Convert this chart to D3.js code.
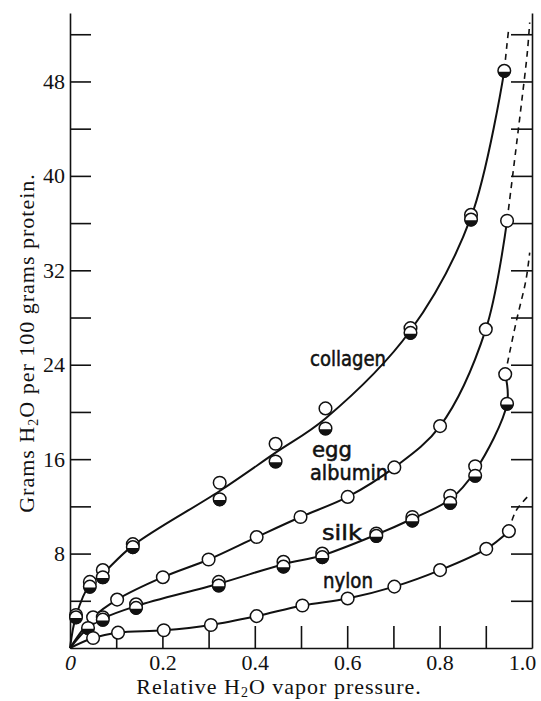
<!DOCTYPE html>
<html>
<head>
  <meta charset="UTF-8">
  <title>Water sorption of proteins</title>
  <script src="https://cdnjs.cloudflare.com/ajax/libs/d3/7.8.5/d3.min.js"></script>
  <style>
    body { margin: 0; background: #fff; }
    .tick text { font-family: "Liberation Serif", serif; font-size: 22px; fill: #111; }
    .axis path, .axis line { stroke: #111; stroke-width: 1.6; }
    .curve { fill: none; stroke: #111; stroke-width: 2; }
    .dash { fill: none; stroke: #111; stroke-width: 1.6; stroke-dasharray: 6,5; }
    .lbl { font-family: "DejaVu Sans Condensed", "DejaVu Sans", sans-serif; font-size: 21px; fill: #111; stroke: #111; stroke-width: 0.5; }
    .title { font-family: "Liberation Serif", serif; font-size: 22px; fill: #111; letter-spacing: 1px; }
  </style>
</head>
<body>
<script>
  // values (x = relative vapour pressure, y = g H2O / 100 g)
  const collagenX    = [0.013, 0.043, 0.071, 0.136, 0.324, 0.445, 0.553, 0.737, 0.868, 0.940];
  const collagenHalf = [2.6, 5.2, 6.0, 8.55, 12.6, 15.8, 18.6, 26.7, 36.3, 48.9];
  const collagenOpen = [2.8, 5.6, 6.6, 8.8, 14.0, 17.3, 20.3, 27.1, 36.7, null];

  const eggX = [0.050, 0.102, 0.201, 0.300, 0.404, 0.499, 0.601, 0.702, 0.801, 0.900, 0.946];
  const eggY = [2.6, 4.1, 6.0, 7.5, 9.4, 11.1, 12.8, 15.3, 18.8, 27.0, 36.2];

  const silkX    = [0.039, 0.071, 0.143, 0.322, 0.462, 0.546, 0.663, 0.741, 0.823, 0.877, 0.946];
  const silkHalf = [1.7, 2.4, 3.4, 5.3, 6.9, 7.7, 9.5, 10.8, 12.3, 14.6, 20.7];
  const silkOpen = [null, 2.6, 3.7, 5.6, 7.3, 8.0, 9.7, 11.1, 12.9, 15.4, 23.2];

  const nylonX = [0.050, 0.104, 0.203, 0.305, 0.404, 0.503, 0.601, 0.702, 0.801, 0.901, 0.950];
  const nylonY = [0.85, 1.3, 1.5, 1.95, 2.7, 3.6, 4.2, 5.2, 6.6, 8.4, 9.9];

  // dashed extrapolations toward saturation
  const collagenDash = [[0.940, 48.9], [0.946, 51.2], [0.950, 52.6]];
  const eggDash      = [[0.946, 36.2], [0.965, 42.2], [0.978, 46.4], [0.990, 50.5], [0.995, 53]];
  const silkDash     = [[0.942, 23.2], [0.965, 27.5], [0.987, 31.2], [0.995, 33.5]];
  const nylonDash    = [[0.950, 9.9], [0.965, 11.6], [0.995, 13.0]];

  const xLabelTicks = [0, 0.2, 0.4, 0.6, 0.8, 1.0];
  const xLabelText  = ["0", "0.2", "0.4", "0.6", "0.8", "1.0"];
  const xMinorTicks = [0.1, 0.2, 0.3, 0.4, 0.5, 0.6, 0.7, 0.8, 0.9];
  const yTicks      = [4, 8, 12, 16, 20, 24, 28, 32, 36, 40, 44, 48, 52];
  const yLabelled   = [8, 16, 24, 32, 40, 48];

  const W = 541, H = 701;
  const svg = d3.select("body").append("svg").attr("width", W).attr("height", H);

  const x = d3.scaleLinear().domain([0, 1]).range([70, 532]);
  const y = d3.scaleLinear().domain([0, 53.8]).range([648, 13]);

  // axes
  svg.append("g").attr("class", "axis")
    .attr("transform", `translate(${x(0)},0)`)
    .call(d3.axisLeft(y).tickValues(yTicks).tickSizeInner(-21).tickSizeOuter(0).tickPadding(5)
      .tickFormat(d => yLabelled.includes(d) ? d : ""));

  svg.append("g").attr("class", "axis")
    .attr("transform", `translate(${x(1)},0)`)
    .call(d3.axisRight(y).tickValues(yTicks).tickSizeInner(-21).tickSizeOuter(0).tickFormat(""));

  svg.append("g").attr("class", "axis")
    .attr("transform", `translate(0,${y(0)})`)
    .call(d3.axisBottom(x).tickValues(xMinorTicks).tickSizeInner(-22).tickSizeOuter(0).tickFormat(""));

  const xl = svg.append("g").attr("class", "axis")
    .attr("transform", `translate(0,${y(0)})`)
    .call(d3.axisBottom(x).tickValues(xLabelTicks).tickSize(0).tickPadding(6)
      .tickFormat((d, i) => xLabelText[i]));
  xl.select(".domain").remove();
  xl.selectAll(".tick text").filter(d => d === 0).style("font-style", "italic");
  xl.selectAll(".tick text").filter(d => d === 1).attr("dx", -10);

  // axis titles
  const xt = svg.append("text").attr("class", "title")
    .attr("x", 279).attr("y", 694).attr("text-anchor", "middle");
  xt.append("tspan").text("Relative H");
  xt.append("tspan").text("2").attr("font-size", 14).attr("dy", 3);
  xt.append("tspan").text("O vapor pressure.").attr("dy", -3);

  const yt = svg.append("text").attr("class", "title")
    .attr("transform", "translate(34,343) rotate(-90)").attr("text-anchor", "middle");
  yt.append("tspan").text("Grams H");
  yt.append("tspan").text("2").attr("font-size", 14).attr("dy", 4);
  yt.append("tspan").text("O per 100 grams protein.").attr("dy", -4);

  // curves
  const line = d3.line().x(d => x(d[0])).y(d => y(d[1])).curve(d3.curveCatmullRom.alpha(0.5));
  const mid = (a, b) => (b == null ? a : (a + b) / 2);

  const collagenLine = [[0, 0]].concat(collagenX.map((v, i) => [v, mid(collagenHalf[i], collagenOpen[i])]));
  const eggLine = [[0, 0]].concat(eggX.map((v, i) => [v, eggY[i]]));
  const silkLine = [[0, 0]].concat(silkX.slice(0, -1).map((v, i) => [v, mid(silkHalf[i], silkOpen[i])]))
    .concat([[silkX[silkX.length - 1], silkHalf[silkHalf.length - 1]], silkDash[0]]);
  const nylonLine = [[0, 0]].concat(nylonX.map((v, i) => [v, nylonY[i]]));

  [collagenLine, eggLine, silkLine, nylonLine].forEach(d =>
    svg.append("path").attr("class", "curve").attr("d", line(d)));
  [collagenDash, eggDash, silkDash, nylonDash].forEach(d =>
    svg.append("path").attr("class", "dash").attr("d", line(d)));

  // markers
  const R = 6.3;
  function openPts(xs, ys) {
    const pts = xs.map((v, i) => [v, ys[i]]).filter(p => p[1] != null);
    svg.append("g").selectAll("circle").data(pts).join("circle")
      .attr("cx", d => x(d[0])).attr("cy", d => y(d[1])).attr("r", R)
      .attr("fill", "#fff").attr("stroke", "#111").attr("stroke-width", 1.5);
  }
  function halfPts(xs, ys) {
    const pts = xs.map((v, i) => [v, ys[i]]).filter(p => p[1] != null);
    const g = svg.append("g").selectAll("g").data(pts).join("g")
      .attr("transform", d => `translate(${x(d[0])},${y(d[1])})`);
    g.append("circle").attr("r", R).attr("fill", "#fff").attr("stroke", "#111").attr("stroke-width", 1.5);
    g.append("path").attr("d", `M${-R},0.8 A${R},${R} 0 0 0 ${R},0.8 Z`).attr("fill", "#111");
  }

  openPts(collagenX, collagenOpen);
  halfPts(collagenX, collagenHalf);
  openPts(eggX, eggY);
  openPts(silkX.slice(0, -1), silkOpen.slice(0, -1));
  openPts([silkDash[0][0]], [silkOpen[silkOpen.length - 1]]);
  halfPts(silkX, silkHalf);
  openPts(nylonX, nylonY);

  // curve names
  const names = [
    {t: "collagen", x: 310, y: 366, w: 76},
    {t: "egg", x: 312, y: 457, w: 40},
    {t: "albumin", x: 310, y: 480, w: 78},
    {t: "silk", x: 322, y: 540, w: 40},
    {t: "nylon", x: 323, y: 588, w: 50}
  ];
  svg.selectAll(".lbl").data(names).join("text").attr("class", "lbl")
    .attr("x", d => d.x).attr("y", d => d.y)
    .attr("textLength", d => d.w).attr("lengthAdjust", "spacingAndGlyphs")
    .text(d => d.t);
</script>
</body>
</html>
